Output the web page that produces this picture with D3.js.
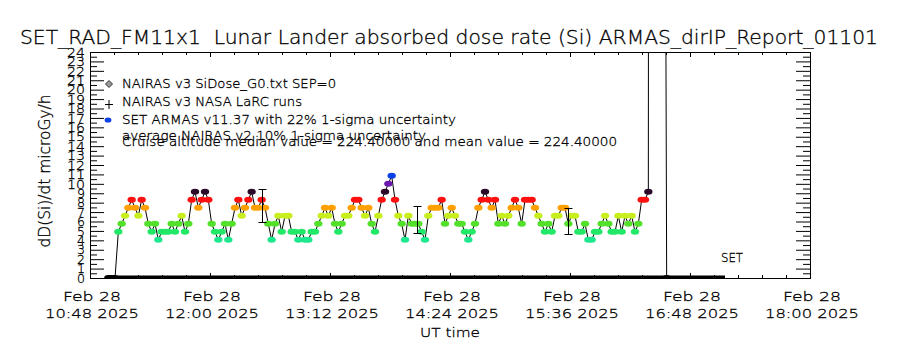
<!DOCTYPE html>
<html>
<head>
<meta charset="utf-8">
<script src="https://cdn.jsdelivr.net/npm/d3@7/dist/d3.min.js"></script>
<style>
  body { margin: 0; background: #fff; }
  text { font-family: "DejaVu Sans", "Liberation Sans", sans-serif; font-weight: 200; fill: #000; stroke: #000; stroke-width: 0.3px; }
</style>
</head>
<body>
<div id="my_dataviz"></div>
<script>
// x axis tick labels (UT, all on the same day)
var tickDay = "Feb 28";
var tickYear = "2025";
var tickTimes = ["10:48", "12:00", "13:12", "14:24", "15:36", "16:48", "18:00"];
// y axis tick labels
var yTickLabels = [0, 1, 2, 3, 4, 5, 6, 7, 8, 9, 10, 11, 12, 13, 14, 15, 16, 17, 18, 19, 20, 21, 22, 23, 24];

// SET ARMAS dose rate (microGy/h), one sample every 2 minutes from 10:59 UT
var setStart = "10:59";
var setStepMinutes = 2;
var setDose = [
  0, 0, 0,
  4.9, 5.75, 6.6, 7.45, 8.3, 7.45, 6.6, 8.3, 7.45, 5.75,
  4.9, 5.75, 4.05, 4.9, 4.9, 4.9, 5.75, 4.9, 5.75, 6.6,
  4.9, 5.75, 8.3, 9.15, 7.45, 8.3, 9.15, 8.3, 5.75, 4.9,
  4.05, 4.9, 5.75, 4.05, 5.75, 7.45, 8.3, 6.6, 7.45, 8.3,
  9.15, 7.45, 7.45, 8.3, 7.45, 5.75, 4.05, 5.75, 6.6, 4.9,
  6.6, 6.6, 4.9, 4.9, 4.05, 4.9, 4.05, 4.05, 4.9, 4.9,
  5.75, 6.6, 7.45, 6.6, 7.45, 5.75, 4.9, 5.75, 6.6, 6.6,
  7.45, 8.3, 8.3, 7.45, 6.6, 7.45, 5.75, 4.9, 6.6, 8.3,
  9.15, 10.0, 10.85, 8.3, 6.6, 5.75, 4.05, 6.6, 5.75, 5.75,
  5.75, 4.9, 4.05, 6.6, 7.45, 7.45, 7.45, 8.3, 5.75, 6.6,
  7.45, 6.6, 5.75, 5.75, 4.9, 4.05, 4.9, 5.75, 7.45, 8.3,
  9.15, 8.3, 7.45, 8.3, 5.75, 6.6, 5.75, 6.6, 7.45, 8.3,
  7.45, 5.75, 8.3, 8.3, 8.3, 7.45, 6.6, 5.75, 4.9, 5.75,
  4.9, 6.6, 6.6, 7.45, 7.45, 5.75, 6.6, 6.6, 4.9, 4.9,
  5.75, 4.05, 4.05, 4.9, 4.9, 5.75, 6.6, 5.75, 4.9, 4.9,
  6.6, 4.9, 6.6, 5.75, 6.6, 4.9, 5.75, 8.3, 8.3, 9.15,
  500
];
// point after the off-scale spike
var setTailTime = "16:34";
var setTailDose = 0;

// NAIRAS v3 runs (flat at zero)
var nairasTimes = ["10:58", "17:09"];
var nairasDose = [0, 0];

// SET 22% 1-sigma error bars
var errTimes = ["12:31", "14:04", "15:35"];
var errLow = [5.9, 4.75, 4.65];
var errHigh = [9.4, 7.6, 7.4];

var titleText = "SET_RAD_FM11x1  Lunar Lander absorbed dose rate (Si) ARMAS_dirIP_Report_01101";
var legendLabels = [
  "NAIRAS v3 SiDose_G0.txt SEP=0",
  "NAIRAS v3 NASA LaRC runs",
  "SET ARMAS v11.37 with 22% 1-sigma uncertainty",
  "average NAIRAS v2 10% 1-sigma uncertainty",
  "Cruise altitude median value = 224.40000 and mean value = 224.40000"
];

// chart size and margins
var margin = {top: 52, right: 90, bottom: 72, left: 90},
    width = 900 - margin.left - margin.right,
    height = 350 - margin.top - margin.bottom;

var root = d3.select("#my_dataviz")
  .append("svg")
    .attr("width", width + margin.left + margin.right)
    .attr("height", height + margin.top + margin.bottom);

var svg = root.append("g")
    .attr("transform", "translate(" + margin.left + "," + margin.top + ")");

var parseTime = d3.utcParse("%Y-%m-%d %H:%M");
function t(hm) { return parseTime("2025-02-28 " + hm); }

// scales
var x = d3.scaleUtc()
  .domain([t(tickTimes[0]), t(tickTimes[tickTimes.length - 1])])
  .range([0, width]);
var y = d3.scaleLinear()
  .domain([0, 24])
  .range([height, 0]);

// IDL-like colour table keyed on the dose levels
var color = d3.scaleLinear()
  .domain([0, 4.05, 4.9, 5.75, 6.6, 7.45, 8.3, 9.15, 10.0, 10.85])
  .range(["#000000", "#1ee88e", "#22e868", "#52e02a", "#c8ee1e", "#ffa000", "#ff1010", "#2c0a2a", "#6a18b0", "#0a40e8"])
  .clamp(true);

var setData = setDose.map(function(d, i) {
  return {date: d3.utcMinute.offset(t(setStart), i * setStepMinutes), dose: d};
});
setData.push({date: t(setTailTime), dose: setTailDose});

var nairasData = nairasTimes.map(function(d, i) { return {date: t(d), dose: nairasDose[i]}; });

// clip everything to the plot box
svg.append("clipPath").attr("id", "clip")
  .append("rect").attr("width", width).attr("height", height);
var plot = svg.append("g").attr("clip-path", "url(#clip)");

var line = d3.line()
  .x(function(d) { return x(d.date); })
  .y(function(d) { return y(d.dose); });

// NAIRAS zero line along the bottom
plot.append("path")
  .datum(nairasData)
  .attr("fill", "none")
  .attr("stroke", "#000")
  .attr("stroke-width", 5)
  .attr("d", line);

// SET line
plot.append("path")
  .datum(setData)
  .attr("fill", "none")
  .attr("stroke", "#000")
  .attr("stroke-width", 1)
  .attr("d", line);

// SET markers
plot.selectAll(".pt")
  .data(setData)
  .enter().append("ellipse")
    .attr("cx", function(d) { return x(d.date); })
    .attr("cy", function(d) { return y(d.dose); })
    .attr("rx", 4.2)
    .attr("ry", 3)
    .attr("fill", function(d) { return color(d.dose); });

// error bars
var errG = plot.selectAll(".err")
  .data(errTimes)
  .enter().append("g")
    .attr("stroke", "#000")
    .attr("stroke-width", 1);
errG.append("line")
  .attr("x1", function(d) { return Math.round(x(t(d))) + 0.5; })
  .attr("x2", function(d) { return Math.round(x(t(d))) + 0.5; })
  .attr("y1", function(d, i) { return y(errLow[i]); })
  .attr("y2", function(d, i) { return y(errHigh[i]); });
[errLow, errHigh].forEach(function(arr) {
  errG.append("line")
    .attr("x1", function(d) { return Math.round(x(t(d))) - 3.5; })
    .attr("x2", function(d) { return Math.round(x(t(d))) + 4.5; })
    .attr("y1", function(d, i) { return Math.round(y(arr[i])) + 0.5; })
    .attr("y2", function(d, i) { return Math.round(y(arr[i])) + 0.5; });
});

// axes: ticks point inwards like IDL
var majorDates = tickTimes.map(t);
var minorDates = d3.range(0, 31).map(function(k) { return d3.utcSecond.offset(majorDates[0], k * 864); });
var minorY = d3.range(0.5, 24, 1);

svg.append("g")
  .call(d3.axisLeft(y).tickValues(minorY).tickSize(-7).tickSizeOuter(0).tickFormat(""));
svg.append("g")
  .attr("transform", "translate(" + width + ",0)")
  .call(d3.axisRight(y).tickValues(minorY).tickSize(-7).tickSizeOuter(0).tickFormat(""));
svg.append("g")
  .attr("transform", "translate(" + width + ",0)")
  .call(d3.axisRight(y).tickValues(yTickLabels).tickSize(-14).tickSizeOuter(0).tickFormat(""));
var yAxis = svg.append("g")
  .call(d3.axisLeft(y).tickValues(yTickLabels).tickSize(-14).tickSizeOuter(0).tickPadding(5));
yAxis.selectAll("text")
  .style("font-size", "13px")
  .attr("textLength", function(d) { return d < 10 ? 8 : 18; })
  .attr("lengthAdjust", "spacingAndGlyphs");

svg.append("g")
  .attr("transform", "translate(0," + height + ")")
  .call(d3.axisBottom(x).tickValues(minorDates).tickSize(-3).tickSizeOuter(0).tickFormat(""));
svg.append("g")
  .attr("transform", "translate(0," + height + ")")
  .call(d3.axisBottom(x).tickValues(majorDates).tickSize(-5).tickSizeOuter(0).tickFormat(""));
svg.append("g")
  .call(d3.axisTop(x).tickValues(minorDates).tickSize(-3).tickSizeOuter(0).tickFormat(""));
svg.append("g")
  .call(d3.axisTop(x).tickValues(majorDates).tickSize(-5).tickSizeOuter(0).tickFormat(""));

svg.selectAll(".domain").remove();
svg.selectAll(".tick line").attr("stroke", "#000");

// plot frame
svg.append("rect")
  .attr("x", 0.5).attr("y", 0.5)
  .attr("width", width).attr("height", height)
  .attr("fill", "none")
  .attr("stroke", "#000");

// x tick labels, two lines each
var xl = svg.selectAll(".xlab")
  .data(majorDates)
  .enter().append("g")
    .attr("transform", function(d) { return "translate(" + (x(d) + 2) + "," + height + ")"; })
    .style("font-size", "13px")
    .attr("text-anchor", "middle");
xl.append("text")
  .attr("y", 23)
  .attr("textLength", 58).attr("lengthAdjust", "spacingAndGlyphs")
  .text(tickDay);
xl.append("text")
  .attr("y", 40)
  .attr("textLength", 94).attr("lengthAdjust", "spacingAndGlyphs")
  .text(function(d, i) { return tickTimes[i] + " " + tickYear; });

svg.append("text")
  .attr("x", width / 2)
  .attr("y", height + 59)
  .attr("text-anchor", "middle")
  .style("font-size", "13px")
  .attr("textLength", 60).attr("lengthAdjust", "spacingAndGlyphs")
  .text("UT time");

// title (keeps the double space)
root.append("text")
  .attr("x", 20)
  .attr("y", 44)
  .style("font-size", "19px")
  .style("white-space", "pre")
  .attr("textLength", 858).attr("lengthAdjust", "spacingAndGlyphs")
  .text(titleText);

// y axis title
root.append("text")
  .attr("transform", "translate(50,171) rotate(-90)")
  .attr("text-anchor", "middle")
  .style("font-size", "16px")
  .attr("textLength", 153).attr("lengthAdjust", "spacingAndGlyphs")
  .text("dD(Si)/dt microGy/h");

// "SET" label
root.append("text")
  .attr("x", 721)
  .attr("y", 262)
  .style("font-size", "13px")
  .attr("textLength", 22).attr("lengthAdjust", "spacingAndGlyphs")
  .text("SET");

// legend
var legendY = [88, 105.5, 124, 139.5, 146];
var legendLen = [214, 180, 334, 304, 495];
root.selectAll(".leg")
  .data(legendLabels)
  .enter().append("text")
    .attr("x", 122)
    .attr("y", function(d, i) { return legendY[i]; })
    .style("font-size", "12.5px")
    .attr("textLength", function(d, i) { return legendLen[i]; })
    .attr("lengthAdjust", "spacingAndGlyphs")
    .text(function(d) { return d; });

root.append("path") // diamond symbol
  .attr("d", "M109,80.5 L112.5,84 L109,87.5 L105.5,84 Z")
  .attr("fill", "#999")
  .attr("stroke", "#333");
root.append("path") // plus symbol
  .attr("d", "M105,104.5 L113,104.5 M109,100 L109,109")
  .attr("stroke", "#000")
  .attr("fill", "none");
root.append("ellipse") // SET symbol
  .attr("cx", 108).attr("cy", 120)
  .attr("rx", 3.4).attr("ry", 2.6)
  .attr("fill", color(10.85));
</script>
</body>
</html>
